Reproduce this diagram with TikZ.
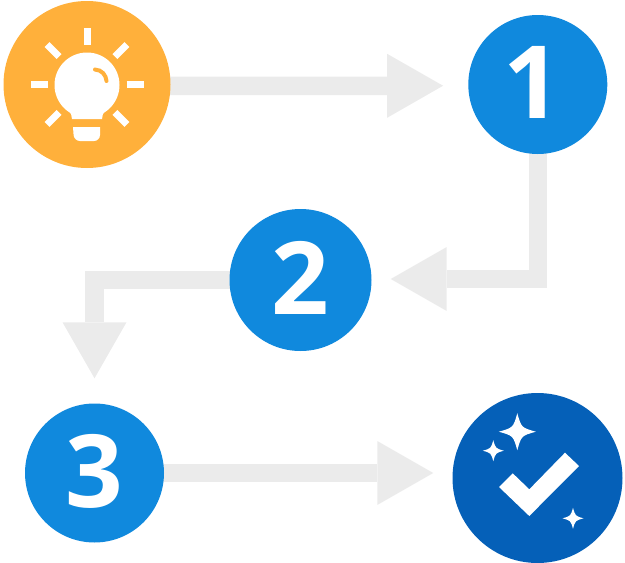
\documentclass[tikz,border=0pt]{standalone}
\usepackage{fontspec}
\setmainfont{Open Sans}
\usepackage{xcolor}
\usetikzlibrary{arrows.meta, backgrounds}
\definecolor{ideaorange}{HTML}{FFB03B}
\definecolor{stepblue}{HTML}{1089DD}
\definecolor{donedarkblue}{HTML}{0560B8}
\definecolor{flowgray}{HTML}{EBEBEB}
\newcommand{\Sparkle}[3]{
	\def\lx{#1}
	\def\ly{#2}
	\def\lr{#3}
	\fill[white] (\lx, \ly-\lr) .. controls (\lx+0.22*\lr, \ly-0.22*\lr) .. (\lx+\lr, \ly)
		.. controls (\lx+0.22*\lr, \ly+0.22*\lr) .. (\lx, \ly+\lr)
		.. controls (\lx-0.22*\lr, \ly+0.22*\lr) .. (\lx-\lr, \ly)
		.. controls (\lx-0.22*\lr, \ly-0.22*\lr) .. (\lx, \ly-\lr) -- cycle;
}
\tikzset{
	stepcircle/.style={circle, inner sep=0pt, fill=stepblue, text=white, text depth=4pt, font=\fontsize{101}{101}\selectfont\bfseries},
	flowline/.style={draw=flowgray, line width=18.5pt, -{Triangle[length=56pt, width=64pt, line width=0pt, fill=flowgray]}}
}

\begin{document}
\begin{tikzpicture}[x=1pt, y=-1pt, line cap=butt]
	\useasboundingbox (0,0) rectangle (625,563);

	\node[circle, inner sep=0pt, minimum size=167pt, fill=ideaorange] (idea) at (87,84.5) {};
	\node[stepcircle, minimum size=139pt] (one) at (537.8,84.5) {1\kern10pt};
	\node[stepcircle, minimum size=142pt] (two) at (300.5,280) {2};
	\node[stepcircle, minimum size=139pt] (three) at (94.5,473) {3};
	\node[circle, inner sep=0pt, minimum size=170pt, fill=donedarkblue] (done) at (537.5,478) {};

	\begin{scope}[on background layer]
		\draw[flowline, shorten <=-3pt, shorten >=25pt] (idea.-1) -- (one.181);
		\draw[flowline, shorten <=-3pt, shorten >=19pt] (one.south) |- ([yshift=1pt]two.east);
		\draw[flowline, shorten <=-3pt, shorten >=25pt] (two.west) -| (three.north);
		\draw[flowline, shorten <=-3pt, shorten >=19pt] (three.east) -- (three.east -| done.west);
	\end{scope}

	% bulb
	\foreach \a in {0,45,135,180,225,270,315}
		\draw[white, line width=7pt] (87,84.5) ++(\a:39.5) -- ++(\a:17);
	\fill[white] (87,85) circle (32.5);
	\fill[white] (72,119) .. controls (72,112) and (67,109) .. (62,104) -- (112,104) .. controls (107,109) and (102,112) .. (102,119) -- cycle;
	\fill[white] (73,127) [rounded corners=6pt] -- (74,141) -- (100,141) [sharp corners] -- (100,127) -- cycle;
	\draw[ideaorange, line width=4pt, line cap=round] (95,69.5) .. controls (102,70) and (106,75) .. (106.5,81);

	% check mark
	\fill[white] (499,487) -- (512.7,473.3) -- (529.3,489.3) -- (565,452.7) -- (579,466) -- (529.3,516) -- cycle;
	\Sparkle{517.3}{431.7}{18.5}
	\Sparkle{493.3}{450.7}{10.5}
	\Sparkle{573}{518.3}{10.5}

\end{tikzpicture}
\end{document}
